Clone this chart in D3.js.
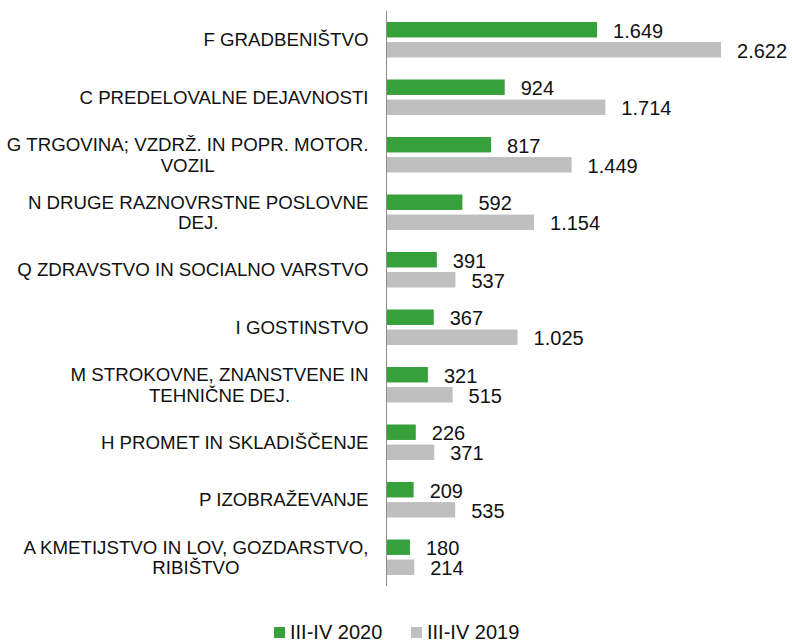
<!DOCTYPE html>
<html><head><meta charset="utf-8">
<script src="https://cdn.jsdelivr.net/npm/d3@7"></script>
<style>body{margin:0;background:#fff;}svg{display:block;font-family:"Liberation Sans",Arial,sans-serif;}</style>
</head><body><svg id="c" width="792" height="641"></svg>
<script>
const categories = [
  ["F GRADBENIŠTVO"],
  ["C PREDELOVALNE DEJAVNOSTI"],
  ["G TRGOVINA; VZDRŽ. IN POPR. MOTOR.", "VOZIL"],
  ["N DRUGE RAZNOVRSTNE POSLOVNE", "DEJ."],
  ["Q ZDRAVSTVO IN SOCIALNO VARSTVO"],
  ["I GOSTINSTVO"],
  ["M STROKOVNE, ZNANSTVENE IN", "TEHNIČNE DEJ."],
  ["H PROMET IN SKLADIŠČENJE"],
  ["P IZOBRAŽEVANJE"],
  ["A KMETIJSTVO IN LOV, GOZDARSTVO,", "RIBIŠTVO"]
];
const values2020 = [1649, 924, 817, 592, 391, 367, 321, 226, 209, 180];
const values2019 = [2622, 1714, 1449, 1154, 537, 1025, 515, 371, 535, 214];
const seriesNames = ["III-IV 2020", "III-IV 2019"];
const colors = ["#36a03b", "#bfbfbf"];

const svg = d3.select("#c");
const loc = d3.formatLocale({decimal: ",", thousands: ".", grouping: [3], currency: ["", ""]});
const fmt = loc.format(",d");

const idx = categories.map((d, i) => i);
const y = d3.scaleBand().domain(idx).range([11, 586]).padding(0);
const inner = d3.scaleBand().domain([0, 1]).range([11, y.bandwidth() - 11]).paddingInner(0.23);
const x = d3.scaleLinear().domain([0, 3000]).range([387, 769.2]);

const series = [values2020, values2019];
series.forEach((vals, s) => {
  svg.append("g").selectAll("rect").data(vals).join("rect")
    .attr("x", x(0))
    .attr("y", (d, i) => y(i) + inner(s))
    .attr("width", d => x(d) - x(0))
    .attr("height", inner.bandwidth())
    .attr("fill", colors[s]);
  svg.append("g").selectAll("text").data(vals).join("text")
    .attr("x", d => x(d) + 16)
    .attr("y", (d, i) => y(i) + inner(s) + inner.bandwidth() / 2 + 1)
    .attr("dominant-baseline", "central")
    .attr("font-size", 20)
    .attr("fill", "#111")
    .text(d => fmt(d));
});

// axis line
svg.append("line").attr("x1", 386.5).attr("x2", 386.5).attr("y1", y.range()[0]).attr("y2", y.range()[1])
  .attr("stroke", "#8c8c8c").attr("stroke-width", 1);

// category labels
const lineH = 20.5;
categories.forEach((lines, i) => {
  const g = svg.append("g");
  const texts = lines.map((l, k) => g.append("text")
    .attr("font-size", 18.7).attr("fill", "#111")
    .attr("text-anchor", "middle")
    .attr("dominant-baseline", "central")
    .attr("y", y(i) + y.bandwidth() / 2 + (k - (lines.length - 1) / 2) * lineH)
    .text(l));
  const maxW = d3.max(texts, t => t.node().getComputedTextLength());
  texts.forEach(t => t.attr("x", 368.5 - maxW / 2));
});

// legend
const legX = [274, 411];
seriesNames.forEach((n, s) => {
  svg.append("rect").attr("x", legX[s]).attr("y", 627).attr("width", 11).attr("height", 11).attr("fill", colors[s]);
  svg.append("text").attr("x", legX[s] + 16).attr("y", 638.5).attr("font-size", 20).attr("fill", "#111").text(n);
});
</script></body></html>
